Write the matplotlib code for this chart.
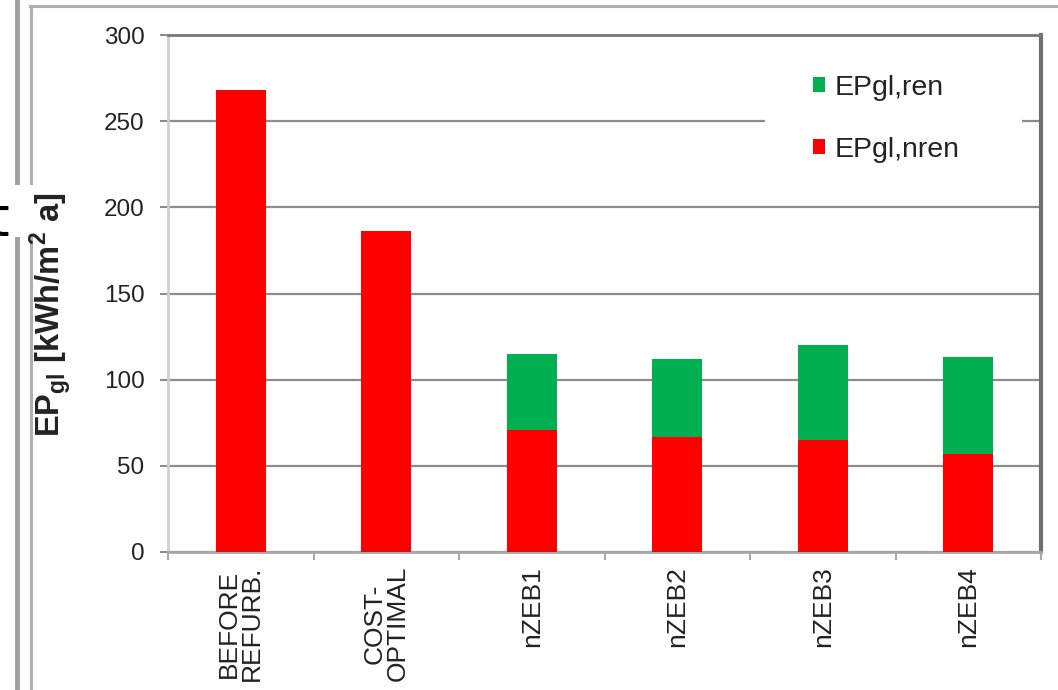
import matplotlib
matplotlib.use("Agg")
import matplotlib.pyplot as plt
from matplotlib.patches import Patch, Rectangle
from matplotlib.lines import Line2D
import numpy as np

categories = ["BEFORE\nREFURB.", "COST-\nOPTIMAL", "nZEB1", "nZEB2", "nZEB3", "nZEB4"]
ep_nren = [268, 186, 71, 67, 65, 57]
ep_ren = [0, 0, 44, 45, 55, 56]
series_labels = ["EPgl,ren", "EPgl,nren"]
yticks = [0, 50, 100, 150, 200, 250, 300]

RED = "#FF0000"
GREEN = "#00B050"
GRID = "#8c8c8c"
TXT = "#222222"

plt.rcParams["font.family"] = ["Liberation Sans", "DejaVu Sans"]
plt.rcParams["mathtext.fontset"] = "custom"
plt.rcParams["mathtext.rm"] = "Liberation Sans"
plt.rcParams["mathtext.bf"] = "Liberation Sans:bold"

W, H = 1058, 690
fig = plt.figure(figsize=(W / 100, H / 100), dpi=100)
fig.patch.set_facecolor("white")

L, R, T, B = 168, 1041, 35, 552
ax = fig.add_axes([L / W, (H - B) / H, (R - L) / W, (B - T) / H])

x = np.arange(len(categories))
bw = 0.345
ax.bar(x, ep_nren, width=bw, color=RED, zorder=3)
ax.bar(x, ep_ren, width=bw, bottom=ep_nren, color=GREEN, zorder=3)

ax.set_xlim(-0.5, len(categories) - 0.5)
ax.set_ylim(0, 300)
ax.set_yticks(yticks)
ax.yaxis.grid(True, color=GRID, linewidth=1.6, zorder=1)
ax.set_axisbelow(True)

# spines
ax.spines["left"].set_color("#cfcfcf")
ax.spines["left"].set_linewidth(2)
ax.spines["top"].set_color("#777777")
ax.spines["top"].set_linewidth(2)
ax.spines["right"].set_color("#6f6f6f")
ax.spines["right"].set_linewidth(3)
ax.spines["bottom"].set_color("#a8a8a8")
ax.spines["bottom"].set_linewidth(2)

ax.tick_params(axis="y", length=6, width=1.5, color=GRID, pad=11,
               labelsize=17.5, labelcolor=TXT)
ax.set_xticks(x)
ax.set_xticklabels(categories, rotation=90, fontsize=19, color=TXT,
                   linespacing=0.95)
ax.tick_params(axis="x", which="major", length=0, pad=10)
ax.set_xticks(np.arange(-0.5, len(categories) + 0.5, 1), minor=True)
ax.tick_params(axis="x", which="minor", length=6, width=1.5, color="#a8a8a8")

ax.set_ylabel(r"EP$_{\mathbf{gl}}$ [kWh/m$^{\mathbf{2}}$ a]", fontsize=23.5,
              fontweight="bold", color=TXT)
ax.yaxis.set_label_coords((73 - L) / (R - L), (B - 315) / (B - T))

# white area behind legend
ax.add_patch(Rectangle((0.684, 0.70), 0.294, 0.271, transform=ax.transAxes,
                       facecolor="white", edgecolor="none", zorder=2))
handles = [Patch(facecolor=GREEN), Patch(facecolor=RED)]
ax.legend(handles, series_labels, loc="upper left",
          bbox_to_anchor=((813 - L) / (R - L), (B - 75) / (B - T)),
          frameon=False, fontsize=20.5, handlelength=0.42, handleheight=0.42,
          handletextpad=0.35, labelspacing=1.25, borderpad=0, borderaxespad=0,
          labelcolor=TXT)

# outer frame lines of the screenshot
def px_line(x0, y0, x1, y1, color, lw):
    fig.add_artist(Line2D([x0 / W, x1 / W], [1 - y0 / H, 1 - y1 / H],
                          transform=fig.transFigure, color=color,
                          linewidth=lw, zorder=-3))

px_line(17, 0, 17, H, "#a0a0a0", 3.5)
px_line(31, 6, 31, H, "#b0b0b0", 2.2)
px_line(30, 6, W, 6, "#b0b0b0", 2.2)

# white patch with clipped glyph at left edge
fig.add_artist(Rectangle((0, 1 - 237 / H), 43 / W, 52 / H,
                         transform=fig.transFigure, facecolor="white",
                         edgecolor="none", zorder=-2))
fig.text(9 / W, 1 - 235 / H, "t", fontsize=38, family="DejaVu Sans",
         ha="right", va="baseline", color="black", zorder=-1)

fig.savefig("out.png", dpi=100, facecolor="white")
